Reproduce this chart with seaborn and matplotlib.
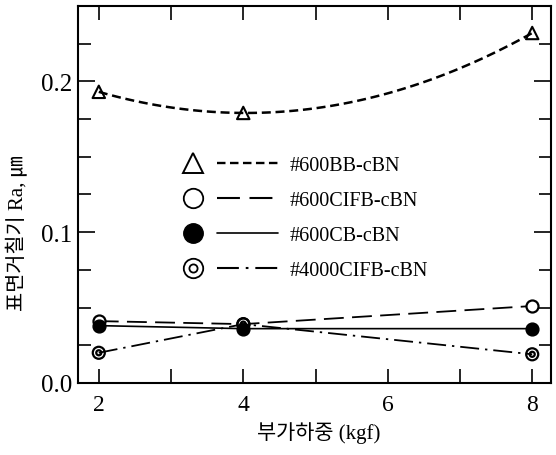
import numpy as np
import pandas as pd
import matplotlib
matplotlib.use("Agg")
import matplotlib.pyplot as plt
import seaborn as sns
from matplotlib.lines import Line2D
from matplotlib.path import Path
from matplotlib.legend_handler import HandlerBase
from matplotlib.ticker import MultipleLocator, FixedLocator

# ---- data ----
load = [2, 4, 8]
bb_600 = [0.193, 0.179, 0.232]        # #600BB-cBN (triangle, short dash)
cifb_600 = [0.041, 0.039, 0.051]      # #600CIFB-cBN (open circle, long dash)
cb_600 = [0.038, 0.036, 0.036]        # #600CB-cBN (filled circle, solid)
cifb_4000 = [0.020, 0.039, 0.019]     # #4000CIFB-cBN (double circle, dash-dot)
series_names = ["#600BB-cBN", "#600CIFB-cBN", "#600CB-cBN", "#4000CIFB-cBN"]
x_ticks = [2, 4, 6, 8]
y_ticks = [0.0, 0.1, 0.2]
y_ticklabels = ["0.0", "0.1", "0.2"]
x_label = "부가하중 (kgf)"
y_label = "표면거칠기 Ra, ㎛"

sns.set_theme(style="ticks")
plt.rcParams["font.family"] = ["Liberation Serif", "Noto Sans CJK KR", "DejaVu Sans"]
plt.rcParams["lines.scale_dashes"] = True

# double circle marker
_outer = Path.unit_circle()
_inner = Path(_outer.vertices * 0.42, _outer.codes)
dbl_circle = Path.make_compound_path(_outer, _inner)

fig = plt.figure(figsize=(5.56, 4.56), dpi=100)
ax = fig.add_axes([0.140, 0.158, 0.851, 0.827])

k = "black"
ls_bb = (0, (3.6, 1.9))
ls_cifb = (0, (11, 4.6))
ls_4000 = (0, (10.5, 3.3, 1.3, 3.3))

# #600BB-cBN : smooth curve through points
sns.regplot(x=load, y=bb_600, order=2, ci=None, scatter=False, truncate=True, ax=ax,
            line_kws=dict(color=k, lw=1.8, linestyle=ls_bb))
sns.scatterplot(x=load, y=bb_600, marker="^", s=80, facecolor="none", edgecolor=k,
                linewidth=1.5, ax=ax, zorder=5)

# #600CIFB-cBN
sns.lineplot(x=load, y=cifb_600, color=k, lw=1.3, linestyle=ls_cifb, ax=ax)
sns.scatterplot(x=load, y=cifb_600, marker="o", s=75, facecolor="white", edgecolor=k,
                linewidth=1.6, ax=ax, zorder=5)

# #600CB-cBN
sns.lineplot(x=load, y=cb_600, color=k, lw=1.2, ax=ax)
sns.scatterplot(x=load, y=cb_600, marker="o", s=85, color=k, edgecolor=k,
                linewidth=1.0, ax=ax, zorder=6)

# #4000CIFB-cBN
sns.lineplot(x=load, y=cifb_4000, color=k, lw=1.3, linestyle=ls_4000, ax=ax)
sns.scatterplot(x=load, y=cifb_4000, marker=dbl_circle, s=75, facecolor="none", edgecolor=k,
                linewidth=1.6, ax=ax, zorder=7)

# ---- axes ----
ax.set_xlim(1.71, 8.26)
ax.set_ylim(0.0, 0.25)
ax.xaxis.set_major_locator(FixedLocator(x_ticks))
ax.xaxis.set_minor_locator(MultipleLocator(1))
ax.yaxis.set_major_locator(FixedLocator(y_ticks))
ax.yaxis.set_minor_locator(MultipleLocator(0.025))
ax.set_yticklabels(y_ticklabels)
ax.tick_params(axis="both", which="both", direction="in", top=True, right=True,
               color=k, width=1.2, labelcolor=k)
ax.tick_params(axis="x", which="both", length=10, pad=8, labelsize=17)
ax.tick_params(axis="y", which="major", length=12, pad=4, labelsize=18)
ax.tick_params(axis="y", which="minor", length=9)
for sp in ax.spines.values():
    sp.set_visible(True)
    sp.set_color(k)
    sp.set_linewidth(1.5)

ax.set_xlabel(x_label, fontsize=15, family=["Liberation Serif", "Noto Sans CJK KR"], color=k)
ax.set_ylabel(y_label, fontsize=15, family=["Liberation Serif", "Noto Sans CJK KR"], color=k)
ax.xaxis.set_label_coords(0.51, -0.10)
ax.yaxis.set_label_coords(-0.104, 0.40)


# ---- legend: marker, then line, then text ----
class MarkerThenLine(HandlerBase):
    def create_artists(self, legend, orig_handle, xdescent, ydescent, width, height,
                       fontsize, trans):
        y = height / 2 - ydescent
        x0 = -xdescent
        m = Line2D([x0 + 0.133 * width], [y])
        m.update_from(orig_handle)
        m.set_linestyle("None")
        m.set_transform(trans)
        l = Line2D([x0 + 0.378 * width, x0 + width], [y, y])
        l.update_from(orig_handle)
        l.set_marker("None")
        l.set_transform(trans)
        return [l, m]


handles = [
    Line2D([], [], color=k, lw=1.7, linestyle=ls_bb, marker="^", ms=15,
           mfc="none", mec=k, mew=1.4),
    Line2D([], [], color=k, lw=1.5, linestyle=ls_cifb, marker="o", ms=14,
           mfc="none", mec=k, mew=1.3),
    Line2D([], [], color=k, lw=1.2, linestyle="-", marker="o", ms=14,
           mfc=k, mec=k, mew=1.0),
    Line2D([], [], color=k, lw=1.5, linestyle=ls_4000, marker=dbl_circle, ms=14,
           mfc="none", mec=k, mew=1.3),
]
leg = ax.legend(handles, series_names, handler_map={Line2D: MarkerThenLine()},
                loc="upper left", bbox_to_anchor=((180 - 78) / 473, 0.603),
                frameon=False, borderpad=0, borderaxespad=0,
                handlelength=4.87, handletextpad=0.6, labelspacing=0.8,
                prop={"family": "Liberation Serif", "size": 14.5})
for t in leg.get_texts():
    t.set_color(k)

fig.savefig("out.png", dpi=100, facecolor="white")
